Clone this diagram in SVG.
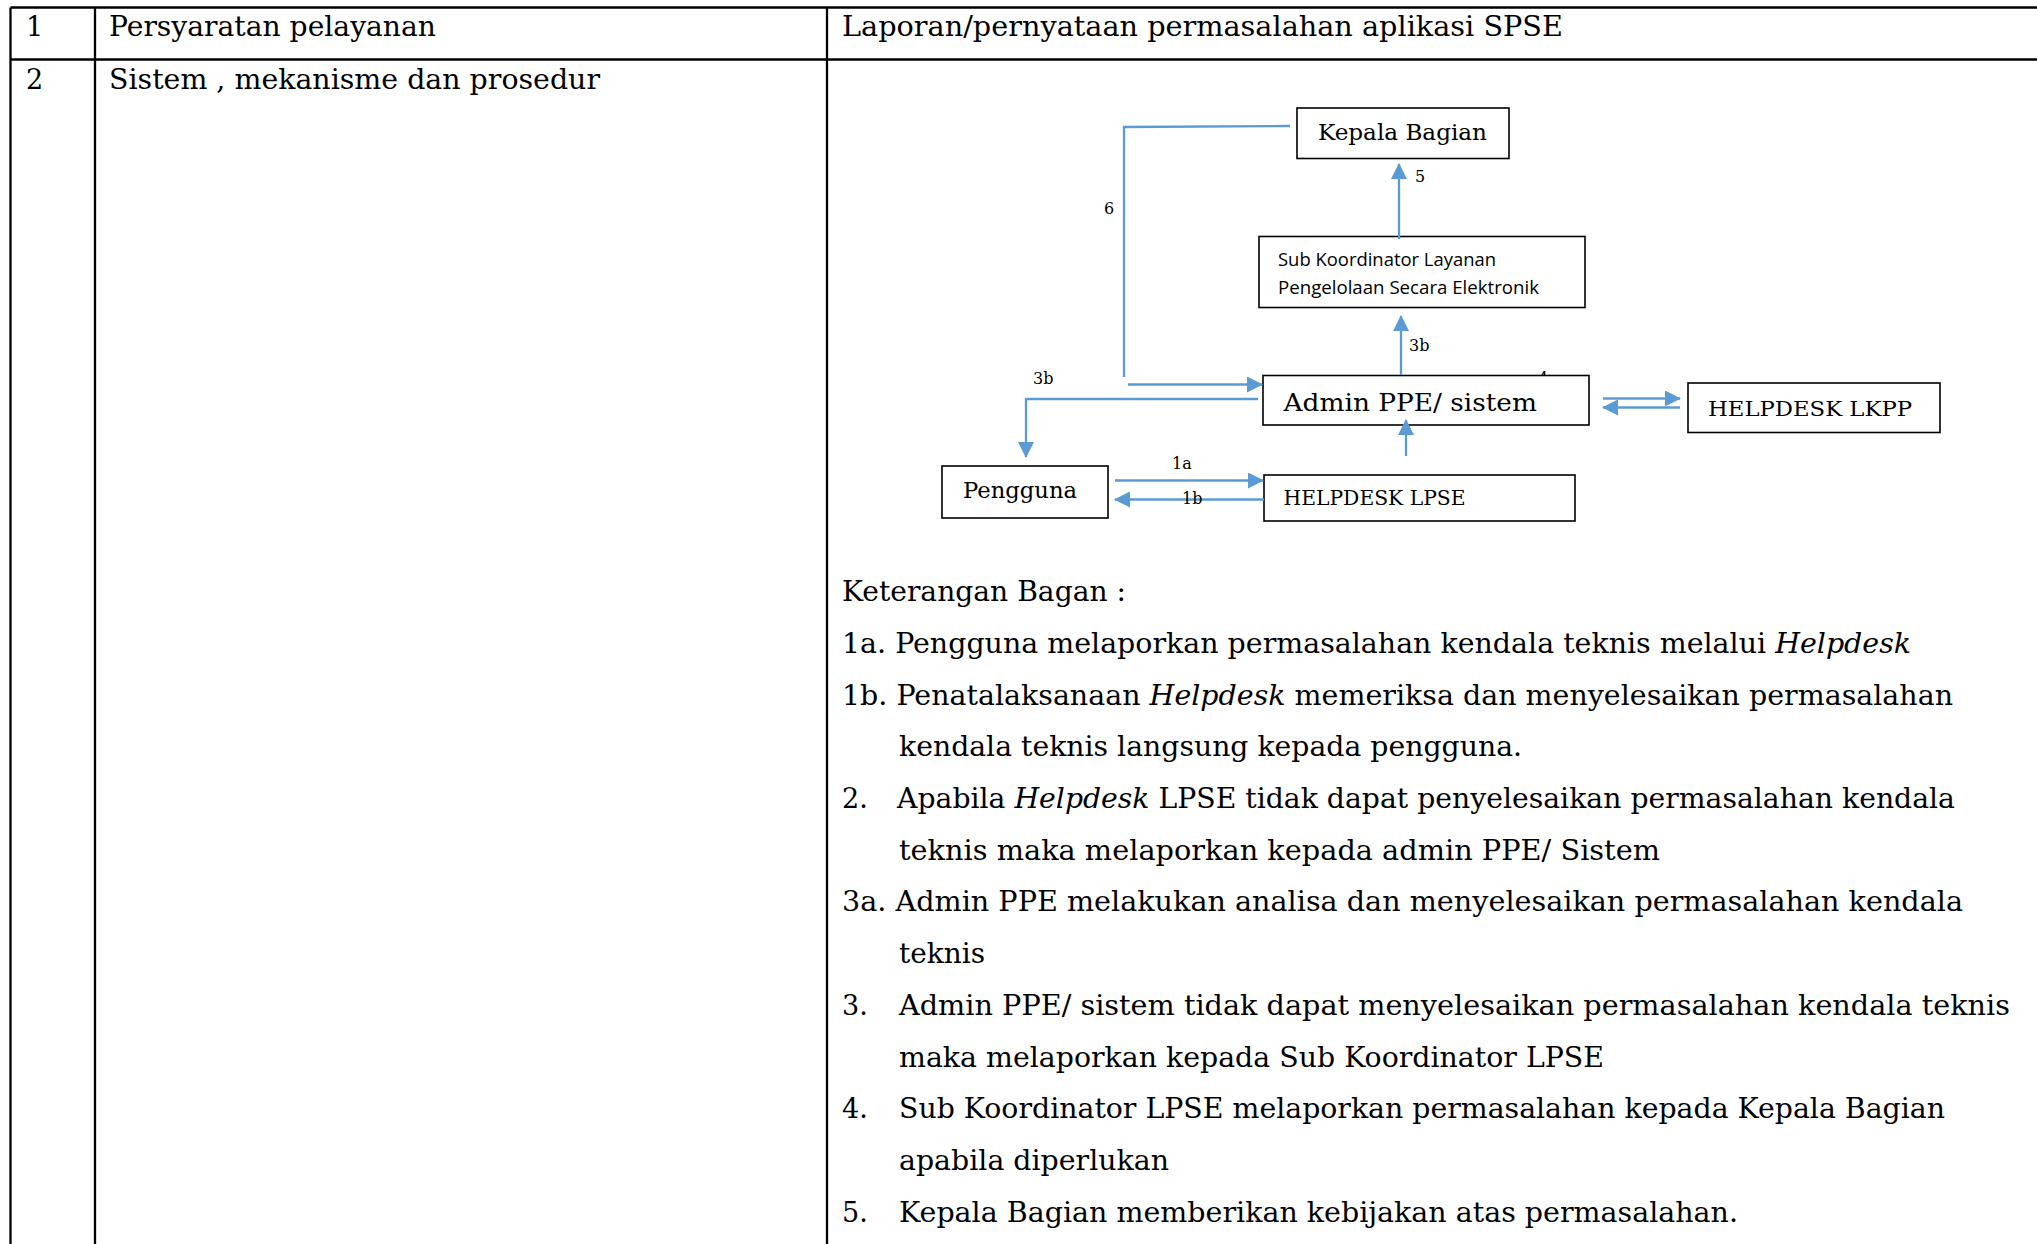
<svg xmlns="http://www.w3.org/2000/svg" width="2037" height="1244" viewBox="0 0 2037 1244">
<style>
.tbl{stroke:#000;stroke-width:2.3;fill:none}
.t{font-family:"DejaVu Serif","Liberation Serif",serif;font-size:27px;fill:#000}
.box{fill:#fff;stroke:#000;stroke-width:1.6}
.conn{fill:none;stroke:#5B9BD5;stroke-width:2.3}
.lbl{font-family:"DejaVu Serif","Liberation Serif",serif;font-size:16px;fill:#000}
.nt{font-family:"DejaVu Serif","Liberation Serif",serif;fill:#000}
.sans{font-family:"Open Sans","Noto Sans","Liberation Sans",sans-serif;font-size:18px;fill:#000}
.i{font-style:italic}
</style>
<defs>
<marker id="ah" markerUnits="userSpaceOnUse" markerWidth="16" markerHeight="16" viewBox="0 0 16 16" refX="15" refY="8" orient="auto">
<path d="M0,0 L16,8 L0,16 z" fill="#5B9BD5"/>
</marker>
</defs>
<rect width="2037" height="1244" fill="#fff"/>
<g id="table">
<path class="tbl" d="M10.5,7.5 H2037 M10.5,59.5 H2037 M10.5,7.5 V1244 M95,7.5 V1244 M827,7.5 V1244"/>
<text class="t" x="26" y="36">1</text>
<text class="t" x="109" y="36" textLength="327" lengthAdjust="spacingAndGlyphs">Persyaratan pelayanan</text>
<text class="t" x="842" y="36" textLength="721" lengthAdjust="spacingAndGlyphs">Laporan/pernyataan permasalahan aplikasi SPSE</text>
<text class="t" x="26" y="89">2</text>
<text class="t" x="109" y="89" textLength="491" lengthAdjust="spacingAndGlyphs">Sistem , mekanisme dan prosedur</text>
</g>
<text class="lbl" x="1538" y="384">4</text>
<g id="node-kepala">
<rect class="box" x="1297" y="108" width="212" height="50.5"/>
<text class="nt" x="1318" y="140" font-size="22" textLength="169" lengthAdjust="spacingAndGlyphs">Kepala Bagian</text>
</g>
<g id="node-subkoordinator">
<rect class="box" x="1259" y="236.5" width="326" height="71"/>
<text class="sans" x="1278" y="266" textLength="218" lengthAdjust="spacingAndGlyphs">Sub Koordinator Layanan</text>
<text class="sans" x="1278" y="293.5" textLength="261" lengthAdjust="spacingAndGlyphs">Pengelolaan Secara Elektronik</text>
</g>
<g id="node-admin">
<rect class="box" x="1263" y="375.5" width="326" height="49.5"/>
<text class="nt" x="1283.5" y="410.5" font-size="25" textLength="253.5" lengthAdjust="spacingAndGlyphs">Admin PPE/ sistem</text>
</g>
<g id="node-lkpp">
<rect class="box" x="1688" y="383" width="252" height="49.5"/>
<text class="nt" x="1708" y="416" font-size="21" textLength="204" lengthAdjust="spacingAndGlyphs">HELPDESK LKPP</text>
</g>
<g id="node-pengguna">
<rect class="box" x="942" y="466" width="166" height="52"/>
<text class="nt" x="963" y="497.5" font-size="22" textLength="114" lengthAdjust="spacingAndGlyphs">Pengguna</text>
</g>
<g id="node-lpse">
<rect class="box" x="1264" y="475" width="311" height="46"/>
<text class="nt" x="1283.5" y="505" font-size="19.5" textLength="182" lengthAdjust="spacingAndGlyphs">HELPDESK LPSE</text>
</g>
<g id="connectors">
<path class="conn" d="M1290,126 L1124,127 V377"/>
<path class="conn" d="M1128,384.5 H1262" marker-end="url(#ah)"/>
<path class="conn" d="M1399,239 V164" marker-end="url(#ah)"/>
<path class="conn" d="M1401,375 V316" marker-end="url(#ah)"/>
<path class="conn" d="M1258,399 H1026 V457" marker-end="url(#ah)"/>
<path class="conn" d="M1115,480.5 H1263" marker-end="url(#ah)"/>
<path class="conn" d="M1264,499.5 H1115" marker-end="url(#ah)"/>
<path class="conn" d="M1406,456 V420" marker-end="url(#ah)"/>
<path class="conn" d="M1603,398.5 H1680" marker-end="url(#ah)"/>
<path class="conn" d="M1680,407.5 H1603" marker-end="url(#ah)"/>
</g>
<g id="labels">
<text class="lbl" x="1109" y="214" text-anchor="middle">6</text>
<text class="lbl" x="1415" y="182">5</text>
<text class="lbl" x="1409" y="351">3b</text>
<text class="lbl" x="1033" y="384">3b</text>
<text class="lbl" x="1172" y="469">1a</text>
<text class="lbl" x="1182" y="504">1b</text>
</g>
<g id="legend">
<text class="t" x="842" y="601" textLength="284" lengthAdjust="spacingAndGlyphs">Keterangan Bagan :</text>
<text class="t" x="842" y="652.7" textLength="1069" lengthAdjust="spacingAndGlyphs">1a. Pengguna melaporkan permasalahan kendala teknis melalui <tspan class="i">Helpdesk</tspan></text>
<text class="t" x="842" y="704.5" textLength="1111" lengthAdjust="spacingAndGlyphs">1b. Penatalaksanaan <tspan class="i">Helpdesk</tspan> memeriksa dan menyelesaikan permasalahan</text>
<text class="t" x="899" y="756.2" textLength="623" lengthAdjust="spacingAndGlyphs">kendala teknis langsung kepada pengguna.</text>
<text class="t" x="842" y="808">2.</text>
<text class="t" x="897" y="808" textLength="1058" lengthAdjust="spacingAndGlyphs">Apabila <tspan class="i">Helpdesk</tspan> LPSE tidak dapat penyelesaikan permasalahan kendala</text>
<text class="t" x="899" y="859.7" textLength="761" lengthAdjust="spacingAndGlyphs">teknis maka melaporkan kepada admin PPE/ Sistem</text>
<text class="t" x="842" y="911.4" textLength="1121" lengthAdjust="spacingAndGlyphs">3a. Admin PPE melakukan analisa dan menyelesaikan permasalahan kendala</text>
<text class="t" x="899" y="963.2" textLength="86" lengthAdjust="spacingAndGlyphs">teknis</text>
<text class="t" x="842" y="1014.9">3.</text>
<text class="t" x="899" y="1014.9" textLength="1111" lengthAdjust="spacingAndGlyphs">Admin PPE/ sistem tidak dapat menyelesaikan permasalahan kendala teknis</text>
<text class="t" x="899" y="1066.7" textLength="705" lengthAdjust="spacingAndGlyphs">maka melaporkan kepada Sub Koordinator LPSE</text>
<text class="t" x="842" y="1118.4">4.</text>
<text class="t" x="899" y="1118.4" textLength="1046" lengthAdjust="spacingAndGlyphs">Sub Koordinator LPSE melaporkan permasalahan kepada Kepala Bagian</text>
<text class="t" x="899" y="1170.1" textLength="270" lengthAdjust="spacingAndGlyphs">apabila diperlukan</text>
<text class="t" x="842" y="1221.9">5.</text>
<text class="t" x="899" y="1221.9" textLength="839" lengthAdjust="spacingAndGlyphs">Kepala Bagian memberikan kebijakan atas permasalahan.</text>
</g>
</svg>
